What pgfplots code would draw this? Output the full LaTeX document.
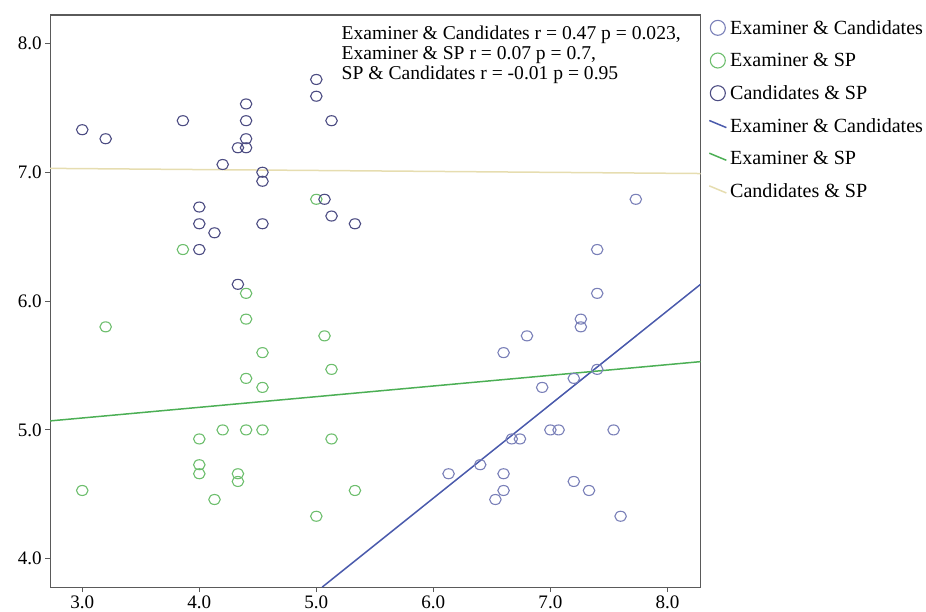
\documentclass[border=0pt]{standalone}
\usepackage{fontspec}
\setmainfont{Liberation Serif}
\usepackage{pgfplots}
\pgfplotsset{compat=1.18}
\definecolor{ecblue}{HTML}{7A80B8}
\definecolor{cspnavy}{HTML}{4C4C82}
\definecolor{espgreen}{HTML}{6DBE6D}
\definecolor{ecline}{HTML}{4A5AAC}
\definecolor{espline}{HTML}{4CAF55}
\definecolor{cspline}{HTML}{E6DDB0}
\definecolor{frame}{HTML}{5A5A5A}
\pgfplotsset{
  fitline/.style={line width=1.5pt,
    legend image code/.code={\draw[##1] (-0.15cm,0.2cm) -- (0.45cm,-0.05cm);}},
  dots/.style={only marks, mark=o, mark size=5pt, line width=1.1pt,
    mark options={xscale=1.15},
    legend image code/.code={\draw[##1, mark size=7.5pt, mark options={xscale=1}]
      plot coordinates {(0.15cm,0cm)};}},
}

\begin{document}
\begin{tikzpicture}
\begin{axis}[
  scale only axis,
  width=648bp, height=570bp,
  xmin=2.726, xmax=8.283,
  ymin=3.78, ymax=8.22,
  xtick={3,4,5,6,7,8}, ytick={4,5,6,7,8},
  xticklabel style={/pgf/number format/.cd,fixed,fixed zerofill,precision=1},
  yticklabel style={/pgf/number format/.cd,fixed,fixed zerofill,precision=1},
  /pgf/number format/assume math mode=true,
  tick label style={font=\fontsize{19bp}{22bp}\selectfont},
  tick align=outside, tickpos=left,
  major tick length=5bp,
  axis line style={frame, line width=1.2pt},
  tick style={frame, line width=1pt},
  legend style={at={(1.012,0.995)}, anchor=north west, draw=none, fill=none,
    font=\fontsize{20bp}{22bp}\selectfont, row sep=13.5bp,
    legend cell align=left, inner sep=0pt,
    nodes={inner xsep=3bp}},
]
% Examiner & Candidates (scatter)
\addplot[dots, color=ecblue] coordinates {
  (7.40,6.40) (7.73,6.79) (7.40,6.06) (7.26,5.86) (7.26,5.80) (6.80,5.73)
  (6.60,5.60) (7.40,5.47) (7.20,5.40) (6.93,5.33) (7.00,5.00) (7.07,5.00)
  (7.54,5.00) (6.67,4.93) (6.74,4.93) (6.40,4.73) (6.13,4.66) (6.60,4.66)
  (6.60,4.53) (6.53,4.46) (7.20,4.60) (7.33,4.53) (7.60,4.33)
  };
% Examiner & SP (scatter)
\addplot[dots, color=espgreen] coordinates {
  (3.20,5.80) (3.00,4.53) (4.40,6.06) (4.40,5.86) (4.54,5.60) (4.40,5.40)
  (4.54,5.33) (4.20,5.00) (4.40,5.00) (4.54,5.00) (4.00,4.93) (4.00,4.73)
  (4.00,4.66) (4.33,4.66) (4.33,4.60) (4.13,4.46) (5.07,5.73) (5.13,5.47)
  (5.13,4.93) (5.00,4.33) (5.33,4.53) (3.86,6.40) (5.00,6.79)
  };
% Candidates & SP (scatter)
\addplot[dots, color=cspnavy] coordinates {
  (3.00,7.33) (3.20,7.26) (3.86,7.40) (4.40,7.53) (4.40,7.40) (4.40,7.26)
  (4.33,7.19) (4.40,7.19) (4.20,7.06) (4.54,7.00) (4.54,6.93) (4.00,6.73)
  (4.00,6.60) (4.13,6.53) (4.00,6.40) (4.54,6.60) (4.33,6.13) (5.00,7.72)
  (5.00,7.59) (5.13,7.40) (5.07,6.79) (5.13,6.66) (5.33,6.60)
  };
% fit lines
\addplot[fitline, ecline] coordinates {(5.05,3.78) (8.283,6.13)};
\addplot[fitline, espline] coordinates {(2.726,5.07) (8.283,5.53)};
\addplot[fitline, cspline] coordinates {(2.726,7.03) (8.283,6.99)};
\legend{Examiner \& Candidates, Examiner \& SP, Candidates \& SP,
        Examiner \& Candidates, Examiner \& SP, Candidates \& SP}
\node[anchor=north west, align=left, inner sep=0pt,
      font=\fontsize{19.5bp}{20bp}\selectfont]
  at (rel axis cs:0.448,0.982)
  {Examiner \& Candidates r = 0.47 p = 0.023,\\
   Examiner \& SP r = 0.07 p = 0.7,\\
   SP \& Candidates r = -0.01 p = 0.95};
\end{axis}
% room above and left of the axis, as in the reference
\path ([shift={(-50bp,15bp)}]current axis.north west);
\end{tikzpicture}
\end{document}
